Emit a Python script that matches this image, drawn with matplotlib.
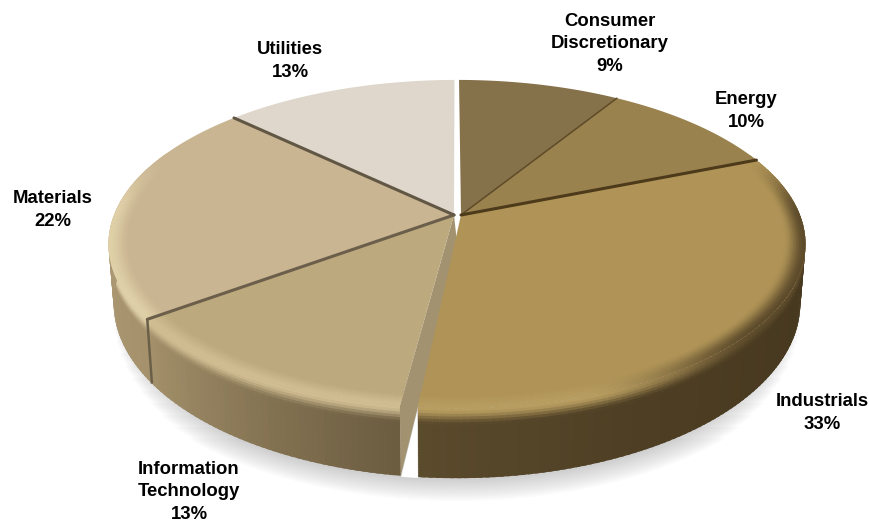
import numpy as np
import matplotlib
matplotlib.use("Agg")
import matplotlib.pyplot as plt
from matplotlib.colors import to_rgb
from matplotlib.patches import Polygon

sectors = ["Consumer\nDiscretionary", "Energy", "Industrials",
           "Information\nTechnology", "Materials", "Utilities"]
weights = [9, 10, 33, 13, 22, 13]

top_colors = ["#85714a", "#9a824f", "#b09457", "#bca97e", "#c9b592", "#dfd6cc"]
glow_colors = ["#85714a", "#9a824f", "#b89d60", "#d0bd92", "#e0d0a8", "#dfd6cc"]
side_start = ["#85714a", "#6a5630", "#46381f", "#6c5c40", "#a5926c", "#b5a380"]
side_end = ["#85714a", "#6a5630", "#5c4b2d", "#a5926c", "#b5a380", "#b5a380"]

label_x = [610, 746, 822, 189, 53, 290]
label_y = [44, 111, 413, 492, 210, 61]

# small gaps in degrees at each end of a wedge, plus the sideways pull of its tip
trim_start = [0.4, 0, 0, 0.7, 0, 0]
trim_end = [0, 0, 1.8, 0, 0, 0.5]
tip_shift = [4, 4, 4, -3, -3, -3]

# perspective disc
cx, cy = 457.0, 215.0
R, H, k = 343.0, 159.0, 0.177
depth = 57.6
bevel = 0.06


def project(theta, r=1.0, shift=0.0, drop=0.0):
    # theta runs clockwise from 12 o'clock, drop 0 is the top face and 1 the base
    t = np.radians(theta)
    u, v = r * np.sin(t), r * np.cos(t)
    w = 1 + k * v
    x = cx + R * u / w * (1 - 0.015 * drop) + shift * (1 - r)
    y = cy - H * v / w + depth * drop / w
    return x, y


def mix(a, b, f):
    return np.array(to_rgb(a)) * (1 - f) + np.array(to_rgb(b)) * f


def smooth(f):
    f = np.clip(f, 0, 1)
    return f * f * (3 - 2 * f)


def glow_at(i, theta):
    v = np.cos(np.radians(theta))
    s = smooth((0.4 - v) / 0.4)
    g = glow_colors[i]
    if i == 2:
        # right shoulder of the big wedge falls into shade
        g = mix(g, "#5d4b2b", smooth((np.sin(np.radians(theta)) - 0.3) / 0.5))
    return mix(top_colors[i], g, s)


def steps(a, b):
    t = np.arange(a, b + 1.0, 1.0)
    t[-1] = b
    return t


fig = plt.figure(figsize=(8.69, 5.22), dpi=100)
ax = fig.add_axes([0, 0, 1, 1])
ax.set_xlim(0, 869)
ax.set_ylim(522, 0)
ax.axis("off")

edges = np.cumsum([0] + weights) * 360.0 / sum(weights)
starts = edges[:-1] + np.array(trim_start)
ends = edges[1:] - np.array(trim_end)

# soft shadow under the front of the base, outer layers get shorter so it tapers off
for n in range(12):
    ring = np.linspace(100 + 3.5 * n, 260 - 3.5 * n, 121)
    sx, sy = project(ring, r=1.0 + 0.003 * n, drop=1.0)
    ax.add_patch(Polygon(np.c_[sx, sy + 1.3 * n], closed=True, fc="#707070",
                         ec="none", alpha=0.03, zorder=1))

# outer wall, each cell overlaps the next one so no hairlines show between them
for i in range(len(weights)):
    thetas = steps(starts[i], ends[i])
    for a, b in zip(thetas[:-1], thetas[1:]):
        if np.cos(np.radians(a)) > 0.3 and np.cos(np.radians(b)) > 0.3:
            continue
        f = (a - starts[i]) / (ends[i] - starts[i])
        if i == 2:
            f = f ** 3
        base = mix(side_start[i], side_end[i], f)
        glow = glow_at(i, a)
        b2 = min(b + 0.6, ends[i])
        drops = np.linspace(0, 1, 26)
        for d0, d1 in zip(drops[:-1], drops[1:]):
            d2 = min(d1 + 0.03, 1.0)
            x0, y0 = project(a, drop=d0)
            x1, y1 = project(b2, drop=d0)
            x2, y2 = project(b2, drop=d2)
            x3, y3 = project(a, drop=d2)
            ax.add_patch(Polygon([(x0, y0), (x1, y1), (x2, y2), (x3, y3)], closed=True,
                                 fc=mix(glow, base, smooth(d0 / 0.22)), ec="none", zorder=2))

# cut face of the wedge that stands next to the big slice
fx0, fy0 = project(starts[3], shift=tip_shift[3], r=0.0)
fx1, fy1 = project(starts[3])
fx2, fy2 = project(starts[3], drop=1.0)
fx3, fy3 = project(ends[2])
ax.add_patch(Polygon([(fx0, fy0), (fx1, fy1), (fx2, fy2), (fx3, fy3),
                      (fx0 + 4, fy0 + depth * 0.64)], closed=True, fc="#a29270",
                     ec="none", zorder=3))
# white slit between the big slice's wall and that cut face
sx1, sy1 = project(ends[2], drop=1.0)
ax.add_patch(Polygon([(fx3 - 0.5, fy3 + 4), (fx2 + 0.5, fy2 + 1), (sx1 - 0.5, sy1 + 1)],
                     closed=True, fc="white", ec="none", zorder=3))

# top faces, with a bevel band close to the rim
for i in range(len(weights)):
    thetas = steps(starts[i], ends[i])
    rx, ry = project(thetas)
    tipx, tipy = project(0.0, r=0.0, shift=tip_shift[i])
    ax.add_patch(Polygon(np.r_[[[tipx, tipy]], np.c_[rx, ry]], closed=True,
                         fc=top_colors[i], ec="none", zorder=4))
    radii = np.linspace(1 - bevel, 1, 15)
    for a, b in zip(thetas[:-1], thetas[1:]):
        if np.cos(np.radians(a)) > 0.4 and np.cos(np.radians(b)) > 0.4:
            continue
        glow = glow_at(i, a)
        b2 = min(b + 0.6, ends[i])
        for r0, r1 in zip(radii[:-1], radii[1:]):
            r2 = min(r1 + 0.002, 1.0)
            x0, y0 = project(a, r=r0)
            x1, y1 = project(b2, r=r0)
            x2, y2 = project(b2, r=r2)
            x3, y3 = project(a, r=r2)
            ax.add_patch(Polygon([(x0, y0), (x1, y1), (x2, y2), (x3, y3)], closed=True,
                                 fc=mix(top_colors[i], glow, smooth((r1 - radii[0]) / bevel)),
                                 ec="none", zorder=5))

# seams between slices
seam_after = [0, 1, 3, 4]
seam_colors = ["#5d4b27", "#4d3a1a", "#6b5f4b", "#625744"]
seam_widths = [1.1, 2.2, 2.2, 2.2]
for i, col, lw in zip(seam_after, seam_colors, seam_widths):
    tipx, tipy = project(0.0, r=0.0, shift=tip_shift[i])
    ex, ey = project(edges[i + 1])
    ax.plot([tipx, ex], [tipy, ey], color=col, lw=lw, solid_capstyle="round", zorder=6)
bx, by = project(edges[4])
bx2, by2 = project(edges[4], drop=1.0)
ax.plot([bx, bx2], [by, by2], color="#6a5f48", lw=1.8, solid_capstyle="butt", zorder=6)

for name, val, lx, ly in zip(sectors, weights, label_x, label_y):
    ax.text(lx, ly, f"{name}\n{val}%", ha="center", va="center", fontsize=13.3,
            fontweight="bold", family="Liberation Sans", linespacing=1.42,
            color="black", zorder=8)

fig.savefig("out.png", dpi=100, facecolor="white")
